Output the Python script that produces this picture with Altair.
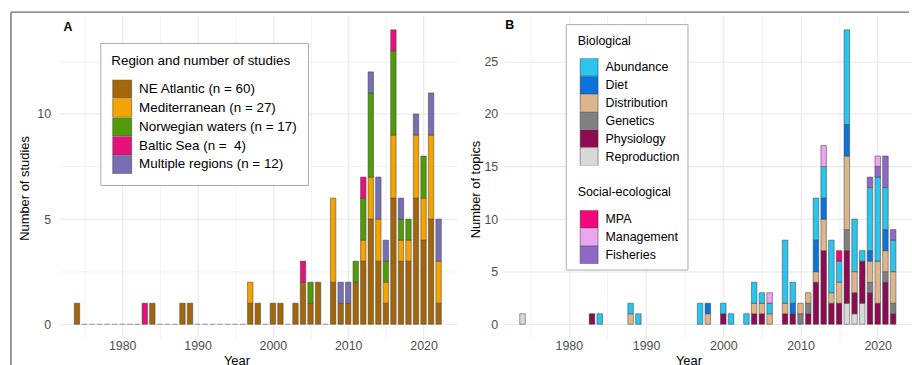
import altair as alt
import pandas as pd

FONT = "Liberation Sans"

# ---------------- shared years with bars ----------------
years = [1974, 1983, 1984, 1988, 1989, 1997, 1998, 2000, 2001, 2003, 2004, 2005, 2006,
         2008, 2009, 2010, 2011, 2012, 2013, 2014, 2015, 2016, 2017, 2018, 2019, 2020, 2021, 2022]

# ---------------- Panel A: studies by region ----------------
region_labels = ["NE Atlantic (n = 60)", "Mediterranean (n = 27)", "Norwegian waters (n = 17)",
                 "Baltic Sea (n =\u00a0 4)", "Multiple regions (n = 12)"]
ne_atlantic   = [1, 0, 1, 1, 1, 1, 1, 1, 1, 1, 2, 1, 2, 2, 1, 1, 2, 3, 5, 3, 1, 6, 3, 3, 6, 4, 5, 1]
mediterranean = [0, 0, 0, 0, 0, 1, 0, 0, 0, 0, 0, 0, 0, 4, 0, 0, 0, 1, 2, 2, 1, 3, 1, 1, 3, 2, 4, 2]
norwegian     = [0, 0, 0, 0, 0, 0, 0, 0, 0, 0, 0, 1, 0, 0, 0, 0, 1, 2, 4, 0, 1, 4, 1, 1, 0, 2, 0, 0]
baltic        = [0, 1, 0, 0, 0, 0, 0, 0, 0, 0, 1, 0, 0, 0, 0, 0, 0, 1, 0, 0, 0, 1, 0, 0, 0, 0, 0, 0]
multiple      = [0, 0, 0, 0, 0, 0, 0, 0, 0, 0, 0, 0, 0, 0, 1, 1, 0, 0, 1, 2, 1, 0, 1, 0, 1, 0, 2, 2]
region_colors = ["#A3660B", "#F4A300", "#539A0B", "#E5127C", "#7670B2"]
year_first, year_last = 1974, 2022

# ---------------- Panel B: topics ----------------
bio_topics = ["Abundance", "Diet", "Distribution", "Genetics", "Physiology", "Reproduction"]
soc_topics = ["MPA", "Management", "Fisheries"]
abundance    = [0, 0, 1, 1, 1, 2, 0, 1, 1, 1, 2, 1, 1, 6, 2, 0, 0, 4, 3, 5, 2, 9, 5, 1, 6, 8, 4, 3]
diet         = [0, 0, 0, 0, 0, 0, 1, 0, 0, 0, 0, 0, 0, 0, 1, 0, 0, 3, 2, 0, 0, 3, 0, 0, 1, 0, 2, 0]
distribution = [0, 0, 0, 1, 0, 0, 1, 0, 0, 0, 1, 1, 1, 1, 0, 1, 1, 1, 3, 1, 2, 7, 2, 0, 2, 4, 2, 3]
genetics     = [0, 0, 0, 0, 0, 0, 0, 0, 0, 0, 0, 0, 0, 0, 0, 1, 1, 0, 0, 0, 0, 2, 0, 0, 1, 0, 1, 1]
physiology   = [0, 1, 0, 0, 0, 0, 0, 1, 0, 0, 1, 1, 0, 1, 1, 0, 1, 4, 7, 2, 2, 5, 2, 4, 3, 2, 4, 1]
reproduction = [1, 0, 0, 0, 0, 0, 0, 0, 0, 0, 0, 0, 0, 0, 0, 0, 0, 0, 0, 0, 0, 2, 1, 2, 0, 0, 0, 0]
mpa          = [0, 0, 0, 0, 0, 0, 0, 0, 0, 0, 0, 0, 0, 0, 0, 0, 0, 0, 0, 0, 1, 0, 0, 0, 0, 0, 0, 0]
management   = [0, 0, 0, 0, 0, 0, 0, 0, 0, 0, 0, 0, 1, 0, 0, 0, 0, 0, 2, 0, 0, 0, 0, 0, 0, 1, 0, 0]
fisheries    = [0, 0, 0, 0, 0, 0, 0, 0, 0, 0, 0, 0, 0, 0, 0, 0, 0, 0, 0, 0, 0, 0, 0, 0, 1, 1, 3, 1]
bio_colors = ["#2AC4EC", "#0B73DC", "#DDB58B", "#808080", "#8C0B52", "#D9D9D9"]
soc_colors = ["#F2077C", "#EBA6EE", "#9069C8"]

# ---------------- build tables ----------------
rowsA = []
series_a = [ne_atlantic, mediterranean, norwegian, baltic, multiple]
for ri, (lab, vals) in enumerate(zip(region_labels, series_a)):
    for y, v in zip(years, vals):
        if v > 0:
            rowsA.append({"year": y, "region": lab, "order": ri, "count": v})
dfA = pd.DataFrame(rowsA)
zero_years = [y for y in range(year_first, year_last + 1) if y not in years]
dfZero = pd.DataFrame({"year": zero_years, "count": [0] * len(zero_years)})

rowsB = []
series_b = [reproduction, physiology, genetics, distribution, diet, abundance, fisheries, mpa, management]
names_b = ["Reproduction", "Physiology", "Genetics", "Distribution", "Diet", "Abundance",
           "Fisheries", "MPA", "Management"]
for oi, (name, vals) in enumerate(zip(names_b, series_b)):
    grp = "bio" if name in bio_topics else "soc"
    for y, v in zip(years, vals):
        if v > 0:
            rowsB.append({"year": y, "topic": name, "group": grp, "order": oi, "count": v})
dfB = pd.DataFrame(rowsB)

HALF = 0.36
XDOM = [1971.56, 2024.44]
major_test = "datum.value % 10 == 0"
GRID_COLOR = "#E8E8E8"


def x_axis(title_x):
    return alt.Axis(values=list(range(1975, 2021, 5)), format="d",
                    labelExpr="datum.value % 10 == 0 ? datum.label : ''",
                    grid=True, gridColor=GRID_COLOR,
                    gridWidth={"condition": {"test": major_test, "value": 1.1}, "value": 0.55},
                    ticks=False, tickSize=0, domain=False, labelPadding=1,
                    title="Year", titleX=title_x, titleY=25.4, titleBaseline="alphabetic",
                    titleAlign="center")


def y_axis(values, title, title_x, title_y, pad):
    return alt.Axis(values=values, format="d",
                    labelExpr="datum.value % 5 == 0 ? datum.label : ''",
                    grid=True, gridColor=GRID_COLOR,
                    gridWidth={"condition": {"test": "datum.value % 5 == 0", "value": 1.1}, "value": 0.55},
                    ticks=False, tickSize=0, domain=False, labelPadding=pad,
                    title=title, titleX=title_x, titleY=title_y, titleAngle=270,
                    titleBaseline="alphabetic", titleAlign="center")


one = pd.DataFrame({"k": [0]})

# ---------------- Panel A chart ----------------
barsA = alt.Chart(dfA).transform_stack(
    stack="count", groupby=["year"], as_=["y0", "y1"],
    sort=[alt.SortField("order", order="ascending")]
).transform_calculate(
    xa=f"datum.year - {HALF}", xb=f"datum.year + {HALF}"
).mark_rect(stroke="#3a3a3a", strokeWidth=0.5).encode(
    x=alt.X("xa:Q", scale=alt.Scale(domain=XDOM, nice=False, zero=False), axis=x_axis(179)),
    x2="xb:Q",
    y=alt.Y("y0:Q", scale=alt.Scale(domain=[-0.7, 14.7], nice=False, zero=False),
            axis=y_axis([0, 2.5, 5, 7.5, 10, 12.5], "Number of studies", -30, 174, 8)),
    y2="y1:Q",
    color=alt.Color("region:N",
                    scale=alt.Scale(domain=region_labels, range=region_colors),
                    sort=region_labels,
                    legend=alt.Legend(title="Region and number of studies", orient="none",
                                      legendX=42, legendY=28, padding=11,
                                      strokeColor="#aaaaaa", fillColor="white",
                                      titleFontSize=13.5, labelFontSize=13.5,
                                      titleLimit=400, labelLimit=400,
                                      titleFontWeight="normal", titleColor="black",
                                      labelColor="black", symbolType="square",
                                      symbolSize=361, symbolStrokeColor="#333333",
                                      symbolStrokeWidth=0.5, symbolOpacity=1,
                                      clipHeight=18.75, rowPadding=0, labelOffset=7,
                                      titlePadding=12.5, symbolOffset=1)),
)

zerosA = alt.Chart(dfZero).transform_calculate(
    xa=f"datum.year - {HALF}", xb=f"datum.year + {HALF}"
).mark_rule(color="#8f8f8f", strokeWidth=1).encode(
    x="xa:Q", x2="xb:Q", y="count:Q"
)

labelA = alt.Chart(one).mark_text(text="A", fontWeight="bold", fontSize=12.5, font=FONT,
                                  align="left", baseline="alphabetic", color="black").encode(
    x=alt.value(5), y=alt.value(16))

frame_top = alt.Chart(one).mark_rule(color="#6d6d6d", strokeWidth=1.4).encode(
    x=alt.value(-48), x2=alt.value(856), y=alt.value(-3))
frame_left = alt.Chart(one).mark_rule(color="#6d6d6d", strokeWidth=1.4).encode(
    x=alt.value(-48), y=alt.value(-3), y2=alt.value(353))

chartA = alt.layer(zerosA, barsA, labelA, frame_top, frame_left).properties(width=401, height=326)

# ---------------- Panel B chart ----------------
stackedB = alt.Chart(dfB).transform_stack(
    stack="count", groupby=["year"], as_=["y0", "y1"],
    sort=[alt.SortField("order", order="ascending")]
).transform_calculate(
    xa=f"datum.year - {HALF}", xb=f"datum.year + {HALF}"
)

bioB = stackedB.transform_filter("datum.group == 'bio'").mark_rect(
    stroke="#3a3a3a", strokeWidth=0.5).encode(
    x=alt.X("xa:Q", scale=alt.Scale(domain=XDOM, nice=False, zero=False), axis=x_axis(186)),
    x2="xb:Q",
    y=alt.Y("y0:Q", scale=alt.Scale(domain=[-1.4, 29.4], nice=False, zero=False),
            axis=y_axis([0, 2.5, 5, 7.5, 10, 12.5, 15, 17.5, 20, 22.5, 25, 27.5],
                        "Number of topics", -24, 175, 6)),
    y2="y1:Q",
    color=alt.Color("topic:N", scale=alt.Scale(domain=bio_topics, range=bio_colors),
                    sort=bio_topics,
                    legend=alt.Legend(title="Biological", orient="none", legendX=74.5, legendY=20.5,
                                      padding=0, titleFontSize=12.5, labelFontSize=12.5,
                                      titleFontWeight="normal", titleColor="black",
                                      labelColor="black", symbolType="square", symbolSize=324,
                                      symbolStrokeColor="#333333", symbolStrokeWidth=0.5,
                                      symbolOpacity=1, clipHeight=17.8, rowPadding=0,
                                      labelOffset=7, titlePadding=10.5, symbolOffset=2)),
)

socB = stackedB.transform_filter("datum.group == 'soc'").mark_rect(
    stroke="#3a3a3a", strokeWidth=0.5).encode(
    x="xa:Q", x2="xb:Q", y="y0:Q", y2="y1:Q",
    fill=alt.Fill("topic:N", scale=alt.Scale(domain=soc_topics, range=soc_colors),
                  sort=soc_topics,
                  legend=alt.Legend(title="Social-ecological", orient="none", legendX=74.5,
                                    legendY=172, padding=0, titleFontSize=12.5,
                                    labelFontSize=12.5, titleFontWeight="normal",
                                    titleColor="black", labelColor="black",
                                    symbolType="square", symbolSize=324,
                                    symbolStrokeColor="#333333", symbolStrokeWidth=0.5,
                                    symbolOpacity=1, clipHeight=17.8, rowPadding=0,
                                    labelOffset=7, titlePadding=12, symbolOffset=2)),
)

boxB = alt.Chart(one).mark_rect(fill="white", stroke="#aaaaaa", strokeWidth=1).encode(
    x=alt.value(63), x2=alt.value(185.5), y=alt.value(9.6), y2=alt.value(256.6))

labelB = alt.Chart(one).mark_text(text="B", fontWeight="bold", fontSize=12.5, font=FONT,
                                  align="left", baseline="alphabetic", color="black").encode(
    x=alt.value(1.5), y=alt.value(13.6))

chartB = alt.layer(boxB, bioB, socB, labelB).resolve_scale(
    color="independent", fill="independent"
).properties(width=411, height=326)

chart = alt.hconcat(chartA, chartB, spacing=47, bounds="flush").properties(
    padding={"left": 10, "top": 10, "right": 0, "bottom": 0},
    background="white",
).configure(font=FONT).configure_view(strokeWidth=0).configure_axis(
    labelFont=FONT, labelFontSize=12.5, labelColor="#4D4D4D",
    titleFont=FONT, titleFontSize=13, titleFontWeight="normal", titleColor="black",
).configure_legend(labelFont=FONT, titleFont=FONT)

chart.save("out.html", embed_options={"renderer": "svg", "actions": False})
